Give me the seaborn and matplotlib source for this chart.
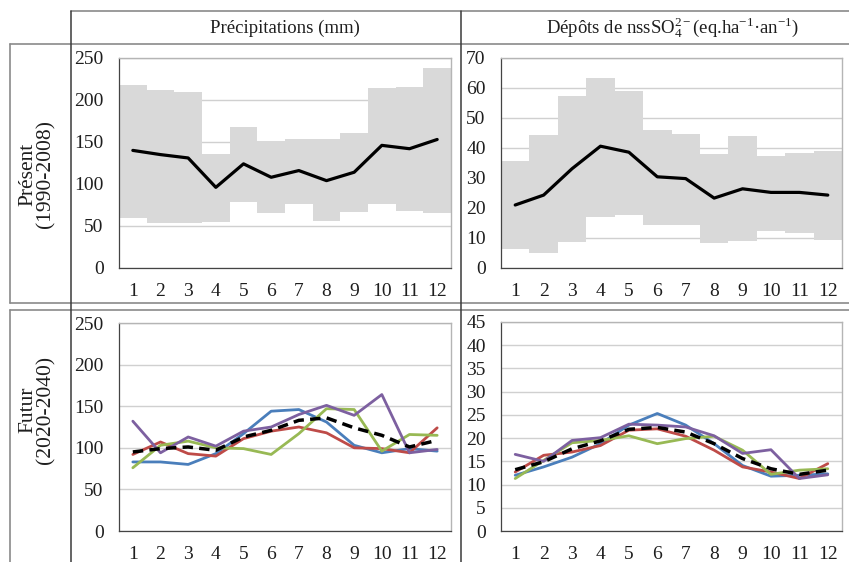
import numpy as np
import matplotlib
matplotlib.use("Agg")
import matplotlib.pyplot as plt
import seaborn as sns
from matplotlib.lines import Line2D
from matplotlib.ticker import MultipleLocator, FixedLocator

# ---------------- data ----------------
months = list(range(1, 13))
month_labels = [str(m) for m in months]

# Present (1990-2008) : precipitation (mm)
precip_max = [218, 212, 210, 136, 168, 151, 154, 154, 161, 214, 215, 238]
precip_min = [60, 54, 53, 55, 79, 65, 76, 56, 67, 76, 68, 65]
precip_mean = [140, 135, 131, 96, 124, 108, 116, 104, 114, 146, 142, 153]

# Present (1990-2008) : nssSO4 deposition
so4_max = [35.6, 44.2, 57.4, 63.4, 58.9, 46.1, 44.8, 38.0, 43.9, 37.4, 38.3, 38.9]
so4_min = [6.3, 4.9, 8.8, 16.9, 17.8, 14.3, 14.3, 8.3, 8.9, 12.4, 11.7, 9.4]
so4_mean = [21.0, 24.3, 33.1, 40.6, 38.6, 30.4, 29.8, 23.3, 26.4, 25.2, 25.2, 24.3]

# Future (2020-2040) : precipitation, four runs + mean
fut_precip_blue = [83, 83, 80, 93, 117, 144, 146, 131, 103, 94, 99, 96]
fut_precip_red = [92, 107, 93, 90, 111, 120, 125, 118, 100, 99, 94, 124]
fut_precip_green = [76, 103, 108, 100, 99, 92, 117, 147, 146, 96, 116, 115]
fut_precip_purple = [132, 94, 113, 102, 120, 125, 140, 151, 139, 164, 94, 98]
fut_precip_mean = [95, 99, 101, 97, 113, 121, 133, 136, 124, 115, 101, 109]

# Future (2020-2040) : nssSO4 deposition, four runs + mean
fut_so4_blue = [12.0, 13.8, 15.9, 18.8, 22.8, 25.3, 22.8, 18.8, 14.1, 11.8, 12.0, 12.3]
fut_so4_red = [12.7, 16.3, 17.0, 18.4, 21.7, 22.0, 20.4, 17.4, 13.8, 12.7, 11.3, 14.5]
fut_so4_green = [11.3, 15.2, 19.0, 19.5, 20.5, 18.8, 19.9, 20.4, 17.4, 12.2, 13.1, 13.4]
fut_so4_purple = [16.5, 15.0, 19.5, 20.1, 23.0, 22.8, 22.4, 20.5, 16.7, 17.5, 11.3, 12.1]
fut_so4_mean = [13.2, 14.9, 17.7, 19.4, 21.9, 22.3, 21.3, 18.8, 15.6, 13.4, 12.2, 13.1]

col_titles = ["Précipitations (mm)",
              "Dépôts de nssSO$_{4}^{2-}$(eq.ha$^{-1}$·an$^{-1}$)"]
row_titles = ["Présent\n(1990-2008)", "Futur\n(2020-2040)"]

# ---------------- style ----------------
sns.set_style("white")
plt.rcParams['font.family'] = ['Liberation Serif', 'DejaVu Serif']
plt.rcParams['mathtext.fontset'] = 'custom'
plt.rcParams['mathtext.rm'] = 'Liberation Serif'
plt.rcParams['mathtext.it'] = 'Liberation Serif:italic'
plt.rcParams['mathtext.bf'] = 'Liberation Serif:bold'

W, H = 849, 562
fig = plt.figure(figsize=(W / 100, H / 100), dpi=100)
fig.patch.set_facecolor("white")


def px_axes(x0, y0, x1, y1):
    return fig.add_axes([x0 / W, 1 - y1 / H, (x1 - x0) / W, (y1 - y0) / H])


ax_tl = px_axes(119, 58, 451, 268)
ax_tr = px_axes(501, 58, 842, 268)
ax_bl = px_axes(119, 323, 451, 531)
ax_br = px_axes(501, 322, 842, 531)

C_BLUE = "#4a7ebb"
C_RED = "#be4b48"
C_GREEN = "#98b954"
C_PURPLE = "#7d60a0"
TEXT_C = "#1e1e1e"
TICK_FS = 14


def style_axes(ax, ymax, ystep):
    ax.set_xlim(0.5, 12.5)
    ax.set_ylim(0, ymax)
    ax.yaxis.set_major_locator(MultipleLocator(ystep))
    ax.xaxis.set_major_locator(FixedLocator(months))
    ax.set_xticklabels(month_labels)
    ax.xaxis.set_minor_locator(FixedLocator([m + 0.5 for m in range(0, 13)]))
    ax.tick_params(axis='x', which='major', length=0, pad=11, labelsize=TICK_FS, labelcolor=TEXT_C)
    ax.tick_params(axis='x', which='minor', length=5, width=0.9, direction='out', color="#444444")
    ax.tick_params(axis='y', which='major', length=5, width=0.9, direction='out', color="#444444",
                   pad=6, labelsize=TICK_FS, labelcolor=TEXT_C)
    ax.grid(axis='y', color="#d0d0d0", lw=1.0)
    ax.grid(axis='x', visible=False)
    ax.set_axisbelow(True)
    for s in ['left', 'bottom']:
        ax.spines[s].set_color("#444444")
        ax.spines[s].set_linewidth(0.9)
    for s in ['top', 'right']:
        ax.spines[s].set_color("#b5b5b5")
        ax.spines[s].set_linewidth(1.0)
    ax.set_xlabel("")
    ax.set_ylabel("")


# --- present panels ---
for ax, vmax, vmin, vmean, ymax, ystep in [
        (ax_tl, precip_max, precip_min, precip_mean, 250, 50),
        (ax_tr, so4_max, so4_min, so4_mean, 70, 10)]:
    ax.bar(months, np.subtract(vmax, vmin), bottom=vmin, width=1.0,
           color="#d9d9d9", edgecolor="none", zorder=1)
    sns.lineplot(x=months, y=vmean, ax=ax, color="black", lw=2.3, zorder=3)
    style_axes(ax, ymax, ystep)

# --- future panels ---
for ax, series, mean, ymax, ystep in [
        (ax_bl, [fut_precip_blue, fut_precip_red, fut_precip_green, fut_precip_purple],
         fut_precip_mean, 250, 50),
        (ax_br, [fut_so4_blue, fut_so4_red, fut_so4_green, fut_so4_purple],
         fut_so4_mean, 45, 5)]:
    for vals, c in zip(series, [C_BLUE, C_RED, C_GREEN, C_PURPLE]):
        sns.lineplot(x=months, y=vals, ax=ax, color=c, lw=2.0, zorder=3)
    sns.lineplot(x=months, y=mean, ax=ax, color="black", lw=2.5,
                 linestyle=(0, (3, 1.8)), zorder=4)
    style_axes(ax, ymax, ystep)

# --- table frame ---
def hline(y, x0, x1, color="#8a8a8a", lw=1.2):
    fig.add_artist(Line2D([x0 / W, x1 / W], [1 - y / H, 1 - y / H],
                          color=color, lw=lw, transform=fig.transFigure))


def vline(x, y0, y1, color="#8a8a8a", lw=1.2):
    fig.add_artist(Line2D([x / W, x / W], [1 - y0 / H, 1 - y1 / H],
                          color=color, lw=lw, transform=fig.transFigure))


hline(11, 71, W)
hline(44, 10, W)
hline(303, 10, W)
hline(310, 10, W)
vline(10, 44, 303)
vline(10, 310, H)
vline(71, 11, H, color="#3a3a3a", lw=1.1)
vline(461, 11, H, color="#3a3a3a", lw=1.1)

# column titles (centred over the plot areas)
fig.text(285 / W, 1 - 28 / H, col_titles[0], ha='center', va='center',
         fontsize=13.5, color=TEXT_C)
fig.text(673 / W, 1 - 28 / H, col_titles[1], ha='center', va='center',
         fontsize=13.5, color=TEXT_C)

# row titles
fig.text(37 / W, 1 - 174 / H, row_titles[0], ha='center', va='center', rotation=90,
         multialignment='center', fontsize=15.5, color=TEXT_C, linespacing=0.95)
fig.text(37 / W, 1 - 410 / H, row_titles[1], ha='center', va='center', rotation=90,
         multialignment='center', fontsize=15.5, color=TEXT_C, linespacing=0.95)

fig.savefig("out.png", dpi=100, facecolor="white")
